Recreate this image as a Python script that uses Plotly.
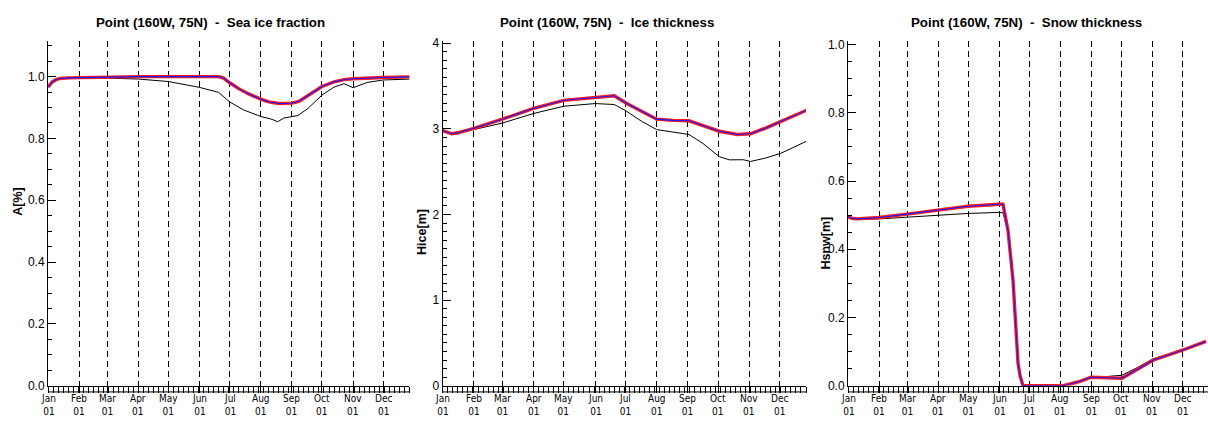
import pandas as pd
import plotly.graph_objects as go

YEAR_START = "2001-01-01"
X_END_DAY = 360

MONTHS = ["Jan", "Feb", "Mar", "Apr", "May", "Jun", "Jul", "Aug", "Sep", "Oct", "Nov", "Dec"]
DAY_LABEL = "01"

TITLES = ["Point (160W, 75N)\u00a0\u00a0-\u00a0\u00a0Sea ice fraction",
          "Point (160W, 75N)\u00a0\u00a0-\u00a0\u00a0Ice thickness",
          "Point (160W, 75N)\u00a0\u00a0-\u00a0\u00a0Snow thickness"]
YTITLES = ["A[%]", "Hice[m]", "Hsnw[m]"]

# ---- Panel 1: sea ice fraction -------------------------------------------
frac_days_exp = [0, 4, 8, 12, 20, 31, 59, 90, 120, 151, 170, 175, 181, 190, 200, 212,
                 220, 230, 243, 250, 262, 273, 285, 295, 304, 320, 334, 361]
frac_exp = [0.966, 0.982, 0.990, 0.994, 0.996, 0.997, 0.998, 1.0, 1.0, 1.0, 1.0, 0.995,
            0.980, 0.961, 0.944, 0.927, 0.918, 0.913, 0.914, 0.920, 0.945, 0.968, 0.983,
            0.990, 0.993, 0.996, 0.997, 0.999]
frac_ctl = frac_exp
frac_days_ref = [0, 4, 8, 12, 20, 31, 59, 90, 120, 151, 170, 181, 195, 212, 222, 229, 235,
                 249, 259, 273, 285, 295, 304, 318, 334, 361]
frac_ref = [0.966, 0.980, 0.988, 0.992, 0.994, 0.995, 0.995, 0.992, 0.984, 0.965, 0.949,
            0.918, 0.892, 0.871, 0.863, 0.854, 0.866, 0.874, 0.897, 0.940, 0.966, 0.977,
            0.964, 0.981, 0.989, 0.992]

# ---- Panel 2: ice thickness ----------------------------------------------
hice_days_exp = [0, 5, 9, 15, 31, 59, 90, 120, 151, 170, 182, 192, 212, 228, 244, 258,
                 274, 292, 305, 320, 335, 361]
hice_exp = [2.981, 2.955, 2.943, 2.955, 3.007, 3.114, 3.239, 3.334, 3.371, 3.387, 3.300,
            3.240, 3.114, 3.100, 3.095, 3.038, 2.973, 2.935, 2.943, 3.010, 3.087, 3.220]
hice_ctl = hice_exp
hice_days_ref = [0, 5, 9, 15, 31, 59, 90, 120, 151, 170, 182, 197, 212, 228, 244, 258,
                 274, 284, 298, 305, 320, 335, 361]
hice_ref = [2.981, 2.955, 2.940, 2.950, 2.992, 3.068, 3.180, 3.265, 3.296, 3.285, 3.208,
            3.090, 2.992, 2.960, 2.935, 2.829, 2.677, 2.639, 2.640, 2.620, 2.660, 2.715,
            2.859]

# ---- Panel 3: snow thickness ---------------------------------------------
hsnw_days_exp = [0, 5, 9, 15, 31, 59, 90, 120, 151, 155, 160, 165, 170, 172, 175, 214,
                 223, 233, 243, 258, 274, 289, 305, 335, 358]
hsnw_exp = [0.495, 0.490, 0.489, 0.490, 0.493, 0.503, 0.515, 0.526, 0.532, 0.532, 0.455,
            0.310, 0.067, 0.030, 0.0, 0.0, 0.006, 0.014, 0.025, 0.024, 0.022, 0.048, 0.075,
            0.105, 0.130]
hsnw_ctl = hsnw_exp
hsnw_days_ref = hsnw_days_exp
hsnw_ref = [0.495, 0.489, 0.487, 0.487, 0.489, 0.494, 0.500, 0.505, 0.508, 0.507, 0.450,
            0.310, 0.067, 0.030, 0.0, 0.0, 0.007, 0.017, 0.027, 0.027, 0.031, 0.053, 0.079,
            0.106, 0.130]

Y_RANGES = [[0, 1.116], [0, 4.03], [0, 1.011]]
Y_DTICK = [0.2, 1, 0.2]
Y_MINOR = [0.05, 0.1, 0.05]
Y_FORMAT = [".1f", "d", ".1f"]

# ---------------------------------------------------------------------------
W, H = 1208, 423
FONT = "Liberation Sans, Arial, Helvetica, sans-serif"
NARROW = "Liberation Sans Narrow, Arial Narrow, DejaVu Sans Condensed, Liberation Sans, sans-serif"

base = pd.Timestamp(YEAR_START)


def to_dates(days):
    return [base + pd.Timedelta(days=d) for d in days]


month_dates = [pd.Timestamp(year=base.year, month=m, day=1) for m in range(1, 13)]
x_range = [base, base + pd.Timedelta(days=X_END_DAY)]

# plot-area pixel boxes (left, right)
x_px = [(48, 409.3), (442.7, 806), (848, 1208)]
y_top_px, y_bot_px = 37.7, 392.0
y_dom = [(H - y_bot_px) / H, (H - y_top_px) / H]

title_px = [210, 607, 1026]
ytitle_px = [(18, 203), (422, 234), (826, 246)]

panels = [
    (frac_days_ref, frac_ref, frac_days_exp, frac_exp, frac_ctl),
    (hice_days_ref, hice_ref, hice_days_exp, hice_exp, hice_ctl),
    (hsnw_days_ref, hsnw_ref, hsnw_days_exp, hsnw_exp, hsnw_ctl),
]

fig = go.Figure()
layout = dict(
    width=W, height=H,
    margin=dict(l=0, r=0, t=0, b=0),
    paper_bgcolor="white", plot_bgcolor="white",
    showlegend=False,
    font=dict(family=FONT, color="black"),
)
annotations = []
shapes = []
DAY_MS = 86400000

for i, (dref, vref, dexp, vexp, vctl) in enumerate(panels):
    n = i + 1
    xid = "x" if n == 1 else f"x{n}"
    yid = "y" if n == 1 else f"y{n}"
    xkey = "xaxis" if n == 1 else f"xaxis{n}"
    ykey = "yaxis" if n == 1 else f"yaxis{n}"
    topkey = f"xaxis{n + 3}"
    rightkey = f"yaxis{n + 3}"

    fig.add_trace(go.Scatter(x=to_dates(dref), y=vref, mode="lines",
                             line=dict(color="black", width=1), xaxis=xid, yaxis=yid))
    fig.add_trace(go.Scatter(x=to_dates(dexp), y=vexp, mode="lines",
                             line=dict(color="#ff1a1a", width=3.4), xaxis=xid, yaxis=yid))
    fig.add_trace(go.Scatter(x=to_dates(dexp), y=vctl, mode="lines",
                             line=dict(color="#1a1aff", width=1.1), xaxis=xid, yaxis=yid))

    dom = [x_px[i][0] / W, x_px[i][1] / W]
    layout[xkey] = dict(
        domain=dom, anchor=yid, type="date", range=x_range,
        showline=True, linecolor="black", linewidth=1,
        ticks="outside", ticklen=6, tickcolor="black", tickwidth=1,
        tick0=YEAR_START, dtick="M1", showticklabels=False,
        showgrid=True, gridcolor="black", gridwidth=1, griddash="6px,4px",
        minor=dict(ticks="outside", ticklen=6, tickcolor="black", tickmode="linear",
                   tick0=YEAR_START, dtick=5 * DAY_MS, showgrid=False),
        zeroline=False,
    )
    layout[topkey] = dict(
        domain=dom, overlaying=xid, anchor=yid, side="top", type="date", range=x_range,
        showline=True, linecolor="black", linewidth=1,
        ticks="inside", ticklen=6, tickcolor="black",
        tick0=YEAR_START, dtick="M1", showticklabels=False, showgrid=False,
        minor=dict(ticks="inside", ticklen=4, tickcolor="black", tickmode="linear",
                   tick0=YEAR_START, dtick=5 * DAY_MS, showgrid=False),
        zeroline=False,
    )
    layout[ykey] = dict(
        domain=y_dom, anchor=xid, range=Y_RANGES[i],
        showline=True, linecolor="black", linewidth=1,
        ticks="inside", ticklen=8, tickcolor="black",
        tick0=0, dtick=Y_DTICK[i], tickformat=Y_FORMAT[i],
        tickfont=dict(size=12, family=FONT, color="black"),
        minor=dict(ticks="inside", ticklen=4, tickcolor="black", tickmode="linear",
                   tick0=0, dtick=Y_MINOR[i], showgrid=False),
        showgrid=False, zeroline=False,
    )
    layout[rightkey] = dict(
        domain=y_dom, overlaying=yid, anchor=xid, side="right", range=Y_RANGES[i],
        showline=True, linecolor="black", linewidth=1,
        ticks="inside", ticklen=8, tickcolor="black",
        tick0=0, dtick=Y_DTICK[i], showticklabels=False,
        minor=dict(ticks="inside", ticklen=4, tickcolor="black", tickmode="linear",
                   tick0=0, dtick=Y_MINOR[i], showgrid=False),
        showgrid=False, zeroline=False,
    )

    # comb baseline under the bottom ticks
    shapes.append(dict(type="line", xref=f"{xid} domain", yref=f"{yid} domain",
                       x0=0, x1=1, y0=-6.3 / (y_bot_px - y_top_px),
                       y1=-6.3 / (y_bot_px - y_top_px),
                       line=dict(color="black", width=1)))

    # month labels (two rows: month name / day)
    for md, mname in zip(month_dates, MONTHS):
        annotations.append(dict(x=md, xref=xid, y=1 - 411.5 / H, yref="paper",
                                text=f"{mname}<br>{DAY_LABEL}", showarrow=False,
                                xanchor="center", yanchor="middle", align="center",
                                font=dict(size=10, family=NARROW, color="black")))

    annotations.append(dict(x=title_px[i] / W, xref="paper", y=1 - 19.5 / H, yref="paper",
                            text=f"<b>{TITLES[i]}</b>", showarrow=False,
                            xanchor="center", yanchor="middle",
                            font=dict(size=13.3, family=FONT, color="black")))
    annotations.append(dict(x=ytitle_px[i][0] / W, xref="paper",
                            y=1 - ytitle_px[i][1] / H, yref="paper",
                            text=f"<b>{YTITLES[i]}</b>", showarrow=False, textangle=-90,
                            xanchor="center", yanchor="middle",
                            font=dict(size=12.5, family=FONT, color="black")))

layout["annotations"] = annotations
layout["shapes"] = shapes
fig.update_layout(**layout)

fig.write_html("out.html")
